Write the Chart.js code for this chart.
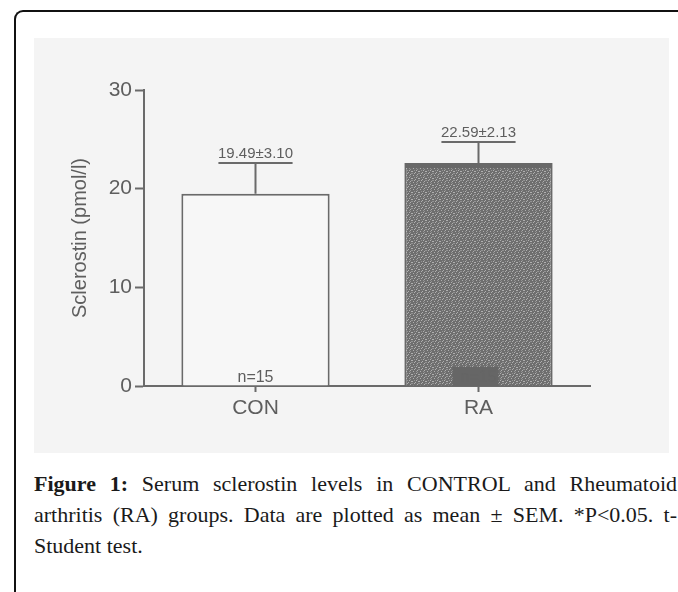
<!DOCTYPE html>
<html>
<head>
<meta charset="utf-8">
<script src="https://cdn.jsdelivr.net/npm/chart.js@4"></script>
<style>
  body { margin: 0; background: #fff; width: 678px; height: 592px; overflow: hidden; position: relative; }
  #frame { position: absolute; left: 14px; top: 10px; width: 800px; height: 700px;
           border-top: 2px solid #111; border-left: 2px solid #111; border-top-left-radius: 9px; }
  #panel { position: absolute; left: 34px; top: 38px; width: 635px; height: 415px; background: #f4f4f4; }
  #caption { position: absolute; left: 34px; top: 468px; width: 643px;
             font-family: 'Liberation Serif', 'Times New Roman', serif; font-size: 22px; color: #1a1a1a; line-height: 31px; }
  #caption .ln { display: block; text-align: justify; text-align-last: justify; white-space: nowrap; }
  #caption .last { text-align-last: left; }
</style>
</head>
<body>
<div id="frame"></div>
<div id="panel"><canvas id="sclerostinChart" width="635" height="415"></canvas></div>
<div id="caption">
  <span class="ln"><b>Figure 1:</b> Serum sclerostin levels in CONTROL and Rheumatoid</span>
  <span class="ln">arthritis (RA) groups. Data are plotted as mean ± SEM. *P&lt;0.05. t-</span>
  <span class="ln last">Student test.</span>
</div>
<script>
const groups = ['CON', 'RA'];
const means = [19.49, 22.59];
const sems = [3.10, 2.13];
const meanLabels = ['19.49±3.10', '22.59±2.13'];
const nLabels = ['n=15', 'n=15'];
const yTicks = [0, 10, 20, 30];

const axisGrey = '#6a6a6a';
const textGrey = '#5e5e5e';

// stippled fill for the RA bar (fixed speckle tile)
let dots = document.createElement('canvas');
dots.width = 7; dots.height = 7;
let dctx = dots.getContext('2d');
dctx.fillStyle = '#6e6e6e';
dctx.fillRect(0, 0, 7, 7);
dctx.fillStyle = '#b0b0b0';
[[0, 0], [3, 1], [5, 3], [1, 4], [4, 6], [6, 0], [2, 2]].forEach(p => dctx.fillRect(p[0], p[1], 1, 1));
dctx.fillStyle = '#939393';
[[5, 5], [2, 6], [0, 2], [4, 4], [6, 2]].forEach(p => dctx.fillRect(p[0], p[1], 1, 1));
let stipple = dctx.createPattern(dots, 'repeat');

const errorBars = {
    id: 'errorBars',
    afterDatasetsDraw(chart) {
        let ctx = chart.ctx;
        let yScale = chart.scales.y;
        let meta = chart.getDatasetMeta(0);
        ctx.save();
        meta.data.forEach((bar, i) => {
            let yTop = yScale.getPixelForValue(means[i] + sems[i]);
            let yMean = yScale.getPixelForValue(means[i]);
            let cap = bar.width / 2;
            ctx.strokeStyle = axisGrey;
            ctx.lineWidth = 2;
            ctx.beginPath();
            ctx.moveTo(bar.x, yMean);
            ctx.lineTo(bar.x, yTop);
            ctx.moveTo(bar.x - cap / 2, yTop);
            ctx.lineTo(bar.x + cap / 2, yTop);
            ctx.stroke();

            ctx.fillStyle = textGrey;
            ctx.font = '15px "Liberation Sans", Arial, sans-serif';
            ctx.textAlign = 'center';
            ctx.textBaseline = 'alphabetic';
            ctx.fillText(meanLabels[i], bar.x, yTop - 5);

            // group size at the foot of each bar
            let base = yScale.getPixelForValue(0);
            ctx.font = '16px "Liberation Sans", Arial, sans-serif';
            if (i === 1) {
                let w = ctx.measureText(nLabels[i]).width + 10;
                ctx.fillStyle = '#666666';
                ctx.fillRect(bar.x - w / 2 - 3, base - 19, w, 19);
                ctx.fillStyle = '#656565';
            }
            ctx.fillText(nLabels[i], bar.x, base - 4);
        });
        ctx.restore();
    }
};

let sclerostinChart = new Chart(document.getElementById('sclerostinChart').getContext('2d'), {
    type: 'bar',
    data: {
        labels: groups,
        datasets: [{
            data: means,
            backgroundColor: ['#f7f7f7', stipple],
            borderColor: [axisGrey, '#686868'],
            borderWidth: [{top: 2, left: 2, right: 2, bottom: 0}, {top: 5, left: 2, right: 2, bottom: 0}],
            borderSkipped: 'start',
            barPercentage: 0.665,
            categoryPercentage: 1.0
        }]
    },
    options: {
        responsive: false,
        devicePixelRatio: 1,
        animation: false,
        layout: { padding: { top: 52, right: 79, bottom: 0, left: 0 } },
        plugins: { legend: { display: false }, tooltip: { enabled: false } },
        scales: {
            x: {
                afterFit: (s) => { s.height = 67; },
                border: { display: true, color: axisGrey, width: 2 },
                grid: { display: true, offset: false, drawOnChartArea: false, drawTicks: true, tickLength: 6, tickColor: axisGrey, tickWidth: 2 },
                ticks: { color: textGrey, padding: 4, font: { family: '"Liberation Sans", Arial, sans-serif', size: 21 } }
            },
            y: {
                min: 0,
                max: 30,
                afterFit: (s) => { s.width = 110; },
                afterBuildTicks: (s) => { s.ticks = yTicks.map(v => ({ value: v })); },
                border: { display: true, color: axisGrey, width: 2 },
                grid: { display: true, drawOnChartArea: false, drawTicks: true, tickLength: 9, tickColor: axisGrey, tickWidth: 2 },
                ticks: { color: textGrey, padding: 3, font: { family: '"Liberation Sans", Arial, sans-serif', size: 21 } },
                title: {
                    display: true,
                    text: 'Sclerostin (pmol/l)',
                    color: textGrey,
                    padding: { top: 34, bottom: 0 },
                    font: { family: '"Liberation Sans", Arial, sans-serif', size: 20 }
                }
            }
        }
    },
    plugins: [errorBars]
});
</script>
</body>
</html>
